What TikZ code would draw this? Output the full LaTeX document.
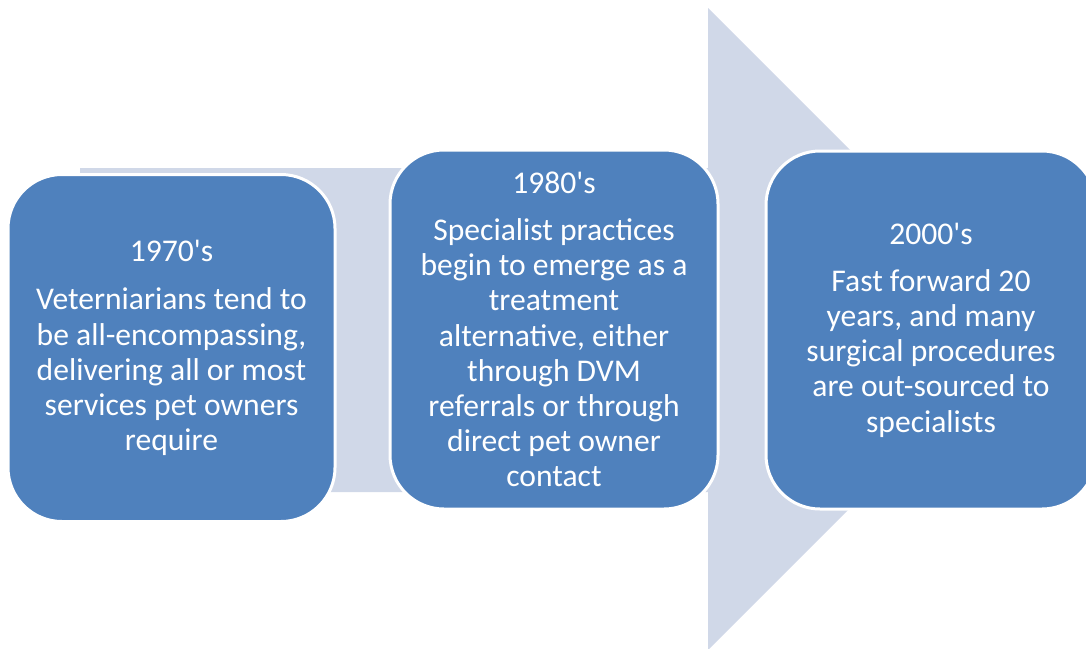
\documentclass[tikz,border=0pt]{standalone}
\usepackage{fontspec}
\setmainfont{Carlito}
\usepackage{tikz}
\definecolor{eraBlue}{HTML}{4F81BD}
\definecolor{arrowGrey}{HTML}{D0D8E8}

\begin{document}
\begin{tikzpicture}[x=0.5pt,y=-0.5pt,
        era/.style={draw=white, line width=1.5pt, fill=eraBlue, rounded corners=27pt,
            text=white, align=center, inner sep=0pt,
            font=\fontsize{15.8}{17.6}\selectfont}]
        \useasboundingbox (0,0) rectangle (1086,648);
        \clip (0,0) rectangle (1086,648);
        % the big arrow behind the boxes
        \fill[arrowGrey] (80,168) -- (708,168) -- (708,8) -- (1029,329)
            -- (708,650) -- (708,492) -- (80,492) -- cycle;
        \node[era, minimum width=163.5pt, minimum height=173.5pt] (box1) at (171.5,348)
            {1970\textquotesingle s\\[6.5pt]
             Veterniarians tend to\\ be all-encompassing,\\ delivering all or most\\
             services pet owners\\ require};
        \node[era, minimum width=164pt, minimum height=179.5pt] (box2) at (554,329.5)
            {1980\textquotesingle s\\[6pt]
             Specialist practices\\ begin to emerge as a\\ treatment\\
             alternative, either\\ through DVM\\ referrals or through\\
             direct pet owner\\ contact};
        \node[era, minimum width=165pt, minimum height=179pt] (box3) at (931,330)
            {2000\textquotesingle s\\[6pt]
             Fast forward 20\\ years, and many\\ surgical procedures\\
             are out-sourced to\\ specialists};
    \end{tikzpicture}
\end{document}
